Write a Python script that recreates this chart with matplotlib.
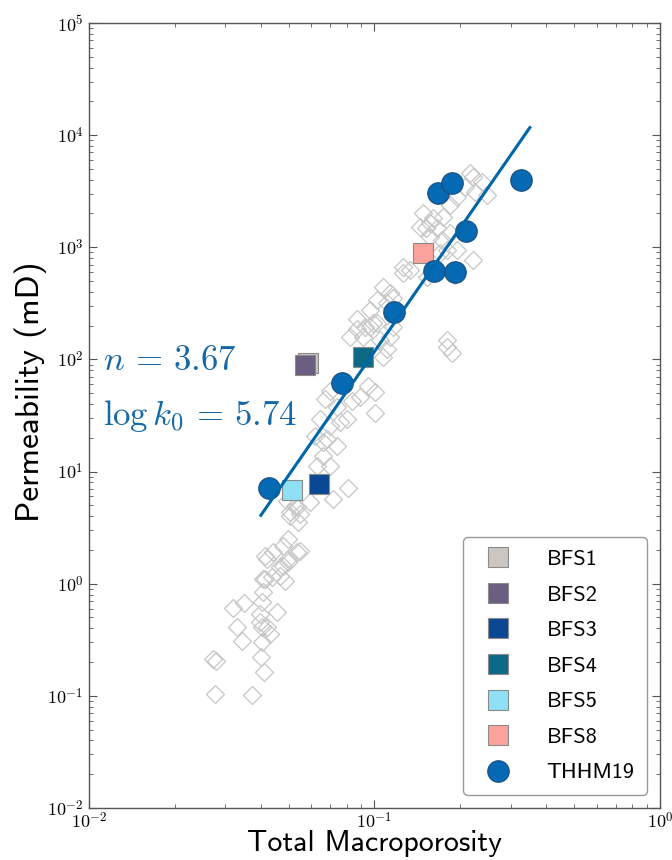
import matplotlib
matplotlib.use("Agg")
import matplotlib.pyplot as plt
import numpy as np
from matplotlib.ticker import FuncFormatter, LogLocator, NullFormatter

plt.rcParams['mathtext.fontset'] = 'cm'

# literature data (grey diamonds)
lit_phi = [0.0276, 0.0372, 0.0272, 0.0278, 0.0410, 0.0400, 0.0343, 0.0404, 0.0330, 0.0404,
           0.0431, 0.0319, 0.0349, 0.0404, 0.0407, 0.0456, 0.0397, 0.0420, 0.0397, 0.0414,
           0.0438, 0.0467, 0.0486, 0.0467, 0.0498, 0.0420, 0.0414, 0.0478, 0.0407, 0.0441,
           0.0535, 0.0498, 0.0548, 0.0498, 0.0478, 0.0540, 0.0506, 0.0506, 0.0548, 0.0527,
           0.0494, 0.0594, 0.0535, 0.0715, 0.0808, 0.0660, 0.0698, 0.0629, 0.0739, 0.0660,
           0.0682, 0.0619, 0.0644, 0.0698, 0.0757, 0.0801, 0.0739, 0.0671, 0.0698, 0.0834,
           0.0890, 0.0949, 0.1004, 0.1004, 0.107, 0.1106, 0.1045, 0.0868, 0.0821, 0.0911,
           0.0964, 0.102, 0.113, 0.116, 0.0868, 0.0926, 0.0988, 0.0964, 0.102, 0.1106,
           0.116, 0.107, 0.113, 0.126, 0.133, 0.153, 0.170, 0.179, 0.191, 0.221,
           0.194, 0.126, 0.156, 0.144, 0.148, 0.160, 0.174, 0.152, 0.166, 0.156,
           0.172, 0.184, 0.184, 0.194, 0.207, 0.225, 0.216, 0.238, 0.248, 0.221,
           0.179, 0.179, 0.187]
lit_k = [0.104, 0.102, 0.213, 0.204, 0.163, 0.222, 0.308, 0.301, 0.410, 0.410,
         0.355, 0.605, 0.671, 0.684, 0.840, 0.557, 0.454, 0.410, 0.535, 1.10,
         1.14, 1.17, 1.05, 1.40, 1.55, 1.65, 1.76, 1.43, 1.10, 1.91,
         1.91, 1.65, 1.95, 2.49, 2.16, 3.53, 4.33, 3.99, 4.16, 4.90,
         5.43, 5.32, 4.80, 5.65, 7.09, 13.7, 11.1, 11.1, 16.8, 18.2,
         19.4, 20.6, 29.2, 25.3, 27.4, 29.2, 37.3, 43.9, 51.8, 42.2,
         45.8, 57.4, 50.7, 33.0, 106, 123, 150, 185, 160, 157,
         196, 213, 160, 196, 227, 196, 213, 278, 342, 321,
         356, 446, 394, 594, 632, 547, 895, 952, 570, 776,
         952, 672, 1656, 1526, 2033, 1835, 1873, 1500, 1495, 1243,
         1169, 1349, 2394, 2822, 3464, 3127, 4617, 3839, 2940, 4253,
         150, 128, 115]

# BFS samples
bfs_names = ['BFS1', 'BFS2', 'BFS3', 'BFS4', 'BFS5', 'BFS8']
bfs_phi = [0.0585, 0.0571, 0.064, 0.0912, 0.0514, 0.148]
bfs_k = [93.8, 88.3, 7.7, 106, 6.8, 895]
bfs_col = ['#cbc6c2', '#6b5e80', '#0a4893', '#0c6a86', '#8fdff5', '#fca29d']

# THHM19
th_phi = [0.0427, 0.0769, 0.117, 0.161, 0.191, 0.209, 0.167, 0.187, 0.326]
th_k = [7.1, 61, 262, 620, 605, 1405, 3063, 3760, 4000]

# power law fit k = k0 * phi^n
n = 3.67
logk0 = 5.74
phi_min, phi_max = 0.04, 0.35

blue = '#0569b3'

fig = plt.figure(figsize=(6.72, 8.6), dpi=100)
ax = fig.add_axes([0.1324, 0.0605, 0.8497, 0.9128])

ax.plot(lit_phi, lit_k, 'D', ms=9, mfc='none', mec='#c6c6c6', mew=0.9, zorder=1)

for name, p, k, c in zip(bfs_names, bfs_phi, bfs_k, bfs_col):
    ax.plot(p, k, 's', ms=14.5, mfc=c, mec='#8a8a8a', mew=0.8, label=name, zorder=3)

ax.plot(th_phi, th_k, 'o', ms=15.5, mfc=blue, mec='#1d4d7a', mew=0.8, label='THHM19', zorder=4)

xf = np.array([phi_min, phi_max])
ax.plot(xf, 10**logk0 * xf**n, '-', color='#0066aa', lw=2.2, zorder=5)

ax.text(0.024, 0.558, r'$n\,=\,3.67$', transform=ax.transAxes, fontsize=25,
        color='#1468a8', va='baseline')
ax.text(0.024, 0.488, r'$\log k_0\,=\,5.74$', transform=ax.transAxes, fontsize=25,
        color='#1468a8', va='baseline')

ax.set_xscale('log')
ax.set_yscale('log')
ax.set_xlim(1e-2, 1e0)
ax.set_ylim(1e-2, 1e5)

fmt = FuncFormatter(lambda v, p: r'$10^{%d}$' % int(round(np.log10(v))))
ax.xaxis.set_major_formatter(fmt)
ax.yaxis.set_major_formatter(fmt)
ax.xaxis.set_minor_formatter(NullFormatter())
ax.yaxis.set_minor_formatter(NullFormatter())
ax.yaxis.set_major_locator(LogLocator(base=10, numticks=20))
ax.yaxis.set_minor_locator(LogLocator(base=10, subs=np.arange(2, 10), numticks=20))

ax.tick_params(which='both', direction='in', top=True, right=True, color='#555555')
ax.tick_params(which='major', length=6, labelsize=13, pad=4)
ax.tick_params(axis='x', which='major', pad=2.5)
ax.tick_params(which='minor', length=3)
for s in ax.spines.values():
    s.set_color('#555555')
    s.set_linewidth(1.0)

ax.set_xlabel('Total Macroporosity', fontname='cmss10', fontsize=21.5)
ax.xaxis.set_label_coords(0.5, -0.0625)
ax.xaxis.label.set_va('bottom')
ax.set_ylabel('Permeability (mD)', fontname='cmss10', fontsize=24)
ax.yaxis.set_label_coords(-0.074, 0.53)

leg = ax.legend(loc='lower right', prop={'family': 'cmss10', 'size': 16},
                numpoints=1, labelspacing=0.72, handletextpad=1.2, borderpad=0.55,
                borderaxespad=0.6, fancybox=True, framealpha=1, edgecolor='#999999')
leg.get_frame().set_linewidth(1.0)

fig.savefig('out.png', dpi=100)
